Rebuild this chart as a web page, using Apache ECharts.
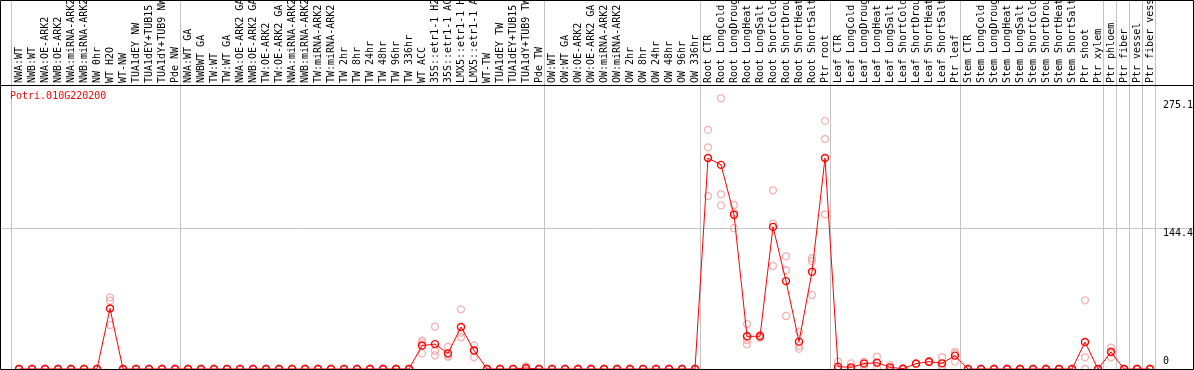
<!DOCTYPE html>
<html>
<head>
<meta charset="utf-8">
<script src="https://cdn.jsdelivr.net/npm/echarts@6/dist/echarts.min.js"></script>
<style>
html,body{margin:0;padding:0;background:#fff;}
#c{width:1194px;height:370px;}
</style>
</head>
<body>
<div id="c"></div>
<script>
var title = 'Potri.010G220200';
var categories = [
 'NWA:WT','NWB:WT','NWA:OE-ARK2','NWB:OE-ARK2','NWA:miRNA-ARK2','NWB:miRNA-ARK2','NW 0hr','WT H2O','WT-NW','TUA1dEY NW','TUA1dEY+TUB15 NW','TUA1dY+TUB9 NW','Pde NW',
 'NWA:WT GA','NWBWT GA','TW:WT','TW:WT GA','NWA:OE-ARK2 GA','NWB:OE-ARK2 GA','TW:OE-ARK2','TW:OE-ARK2 GA','NWA:miRNA-ARK2','NWB:miRNA-ARK2','TW:miRNA-ARK2','TW:miRNA-ARK2','TW 2hr','TW 8hr','TW 24hr','TW 48hr','TW 96hr','TW 336hr','WT ACC','35S::etr1-1 H2O','35S::etr1-1 ACC','LMX5::etr1-1 H2O','LMX5::etr1-1 ACC','WT-TW','TUA1dEY TW','TUA1dEY+TUB15 TW','TUA1dY+TUB9 TW','Pde TW',
 'OW:WT','OW:WT GA','OW:OE-ARK2','OW:OE-ARK2 GA','OW:miRNA-ARK2','OW:miRNA-ARK2','OW 2hr','OW 8hr','OW 24hr','OW 48hr','OW 96hr','OW 336hr',
 'Root CTR','Root LongCold','Root LongDrought','Root LongHeat','Root LongSalt','Root ShortCold','Root ShortDrought','Root ShortHeat','Root ShortSalt','Ptr root',
 'Leaf CTR','Leaf LongCold','Leaf LongDrought','Leaf LongHeat','Leaf LongSalt','Leaf ShortCold','Leaf ShortDrought','Leaf ShortHeat','Leaf ShortSalt','Ptr leaf',
 'Stem CTR','Stem LongCold','Stem LongDrought','Stem LongHeat','Stem LongSalt','Stem ShortCold','Stem ShortDrought','Stem ShortHeat','Stem ShortSalt','Ptr shoot',
 'Ptr xylem','Ptr phloem','Ptr fiber','Ptr vessel','Ptr fiber vessel'
];
// mean expression per category
var means = [
 0,0,0,0,0,0,0,62,0,0,0,0,0,
 0,0,0,0,0,0,0,0,0,0,0,0,0,0,0,0,0,0,24,25.5,16,43,19,0,0,0,1,0,
 0,0,0,0,0,0,0,0,0,0,0,0,
 216,209,158,33.5,33.5,145.5,90,28,99.5,216,
 2.4,1.7,5.5,6.5,1.7,0.3,5.5,7.5,5.8,13.7,
 0,0,0,0,0,0,0,0,0,27.6,
 0,17.4,0,0,0
];
// replicate values
var rep1 = [
 0,0,0,0,0,0,0,73.4,0,0,0,0,0,
 0,0,0,0,0,0,0,0,0,0,0,0,0,0,0,0,0,0,29,43.3,22.8,61.1,24.2,0,0,0,3,0,
 0,0,0,0,0,0,0,0,0,0,0,0,
 244.8,277.2,168,46.1,35,183,115.4,38.2,113.4,254,
 7.5,5.8,6,12.6,4,0.5,6,8,12,16,
 0,0,0,0,0,0,0,0,0,70.3,
 0,21.8,0,0,0
];
var rep2 = [
 0,0,0,0,0,0,0,70,0,0,0,0,0,
 0,0,0,0,0,0,0,0,0,0,0,0,0,0,0,0,0,0,27,18.7,14,37.2,19.5,0,0,0,0,0,
 0,0,0,0,0,0,0,0,0,0,0,0,
 227,178.9,160.1,29.7,34,148.8,101.1,23.6,110.6,235.5,
 0,0,3,5.8,1,0,5,7,3,17.5,
 0,0,0,0,0,0,0,0,0,12,
 0,12,0,0,0
];
var rep3 = [
 0,0,0,0,0,0,0,45,0,0,0,0,0,
 0,0,0,0,0,0,0,0,0,0,0,0,0,0,0,0,0,0,16,14,12.6,32.5,12,0,0,0,0,0,
 0,0,0,0,0,0,0,0,0,0,0,0,
 177.2,167.6,144.1,25.3,32,105.5,54.3,20.8,75.8,158.4,
 0,0,7.5,1,0,0.4,5.5,7.5,2.4,7.5,
 0,0,0,0,0,0,0,0,0,0,
 0,18,0,0,0
];
var yLabelValues = [144.4, 275.1];
var yZeroLabel = [0];
var separatorsAfter = [-1, 12, 40, 52, 62, 72, 83, 84, 85, 86, 87];

var repData = [];
[rep1, rep2, rep3].forEach(function (r) {
  r.forEach(function (v, i) { repData.push([i, v]); });
});

var FONT = 'DejaVu Sans Mono';
var chart = echarts.init(document.getElementById('c'), null, {renderer: 'canvas'});
var YMAX = 290.8;
var option = {
  animation: false,
  backgroundColor: '#ffffff',
  title: {
    text: title, left: 10, top: 91, padding: 0,
    textStyle: {color: '#ff0000', fontFamily: FONT, fontSize: 10, fontWeight: 'normal'}
  },
  grid: {left: 12.5, right: 37.5, top: 85, bottom: 1, containLabel: false, outerBoundsMode: 'none'},
  xAxis: {
    type: 'category', data: categories, position: 'top', boundaryGap: true,
    axisLine: {show: false}, axisTick: {show: false}, splitLine: {show: false},
    axisLabel: {interval: 0, rotate: 90, margin: 2, color: '#000', fontFamily: FONT, fontSize: 10, hideOverlap: false}
  },
  yAxis: [{
    type: 'value', min: 0, max: YMAX, position: 'right', offset: 36.5,
    axisLine: {show: false}, axisTick: {show: false}, splitLine: {show: false},
    axisLabel: {inside: true, margin: 30, align: 'left', verticalAlign: 'top', color: '#000', fontFamily: FONT, fontSize: 10, customValues: yLabelValues}
  }, {
    type: 'value', min: 0, max: YMAX, position: 'right', offset: 36.5,
    axisLine: {show: false}, axisTick: {show: false}, splitLine: {show: false},
    axisLabel: {inside: true, margin: 30, align: 'left', verticalAlign: 'bottom', padding: [0,0,3,0], color: '#000', fontFamily: FONT, fontSize: 10, customValues: yZeroLabel}
  }],
  series: [{
    type: 'scatter', data: repData, symbol: 'circle', symbolSize: 7, z: 2,
    itemStyle: {color: 'rgba(0,0,0,0)', borderColor: '#f2a0a0', borderWidth: 1.3}
  }, {
    type: 'line', data: means, symbol: 'circle', symbolSize: 7, z: 3, showAllSymbol: true,
    lineStyle: {color: '#ff0000', width: 1},
    itemStyle: {color: 'rgba(0,0,0,0)', borderColor: '#ff0000', borderWidth: 1.4}
  }]
};
chart.setOption(option);

function buildGraphics() {
  var c0 = chart.convertToPixel({xAxisIndex: 0}, 0);
  var c1 = chart.convertToPixel({xAxisIndex: 0}, 1);
  var band = c1 - c0;
  var g = [];
  separatorsAfter.forEach(function (i) {
    var x = Math.round(c0 + band * i + 5) + 0.5;
    g.push({type: 'line', z: 0, silent: true, shape: {x1: x, y1: 0, x2: x, y2: 369}, style: {stroke: '#c4c4c4', lineWidth: 1}});
  });
  var yg = Math.round(chart.convertToPixel({yAxisIndex: 0}, yLabelValues[0])) + 0.5;
  g.push({type: 'line', z: 0, silent: true, shape: {x1: 0, y1: yg, x2: 1193, y2: yg}, style: {stroke: '#c4c4c4', lineWidth: 1}});
  g.push({type: 'line', z: 10, silent: true, shape: {x1: 0, y1: 85.5, x2: 1194, y2: 85.5}, style: {stroke: '#000', lineWidth: 1}});
  g.push({type: 'rect', z: 10, silent: true, shape: {x: 0.5, y: 0.5, width: 1193, height: 369}, style: {stroke: '#000', fill: null, lineWidth: 1}});
  chart.setOption({graphic: g});
}
buildGraphics();
</script>
</body>
</html>
